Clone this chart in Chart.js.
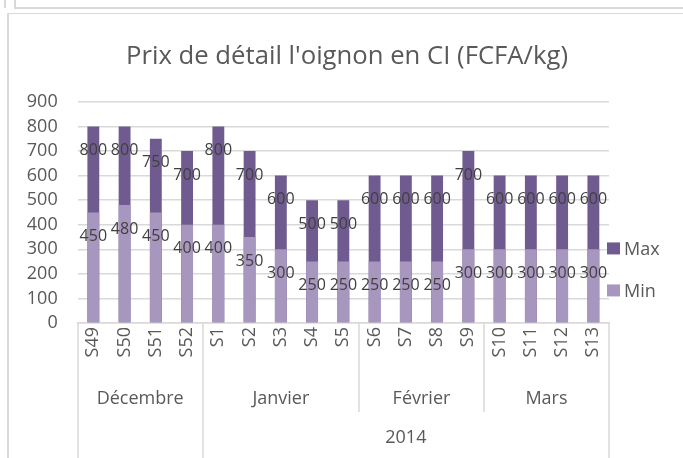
<!DOCTYPE html>
<html><head><meta charset="utf-8">
<script src="https://cdn.jsdelivr.net/npm/chart.js@4"></script>
<style>
html,body{margin:0;padding:0;background:#fff;overflow:hidden}
#wrap{position:relative;width:683px;height:458px}
canvas{position:absolute;left:0;top:0}
.ln{position:absolute;background:#d9d9d9}
</style></head><body>
<div id="wrap">
<canvas id="c" width="683" height="458"></canvas>
<div class="ln" style="left:4px;top:0;width:1.5px;height:8px"></div>
<div class="ln" style="left:14px;top:0;width:1.5px;height:8px"></div>
<div class="ln" style="left:14px;top:7px;width:669px;height:1.5px"></div>
<div class="ln" style="left:7px;top:12.5px;width:676px;height:1.5px"></div>
<div class="ln" style="left:7px;top:12.5px;width:1.5px;height:446px"></div>
</div>
<script>
const weeks = ['S49','S50','S51','S52','S1','S2','S3','S4','S5','S6','S7','S8','S9','S10','S11','S12','S13'];
const maxValues = [800,800,750,700,800,700,600,500,500,600,600,600,700,600,600,600,600];
const minValues = [450,480,450,400,400,350,300,250,250,250,250,250,300,300,300,300,300];
const months = ['Décembre','Janvier','Février','Mars'];
const monthSpans = [4,5,4,4];
const years = ['','2014'];
const yearSpans = [4,13];
const yMin = 0, yMax = 900, yStep = 100;

const FONT = '"Open Sans", "DejaVu Sans", sans-serif';
const TXT = '#595959';
const LINE = '#d9d9d9';

const dataLabels = {
  id: 'dataLabels',
  afterDatasetsDraw(chart) {
    const ctx = chart.ctx;
    ctx.save();
    ctx.font = '16px ' + FONT;
    ctx.fillStyle = '#404040';
    ctx.textAlign = 'center';
    ctx.textBaseline = 'middle';
    chart.data.datasets.forEach((ds, i) => {
      const meta = chart.getDatasetMeta(i);
      meta.data.forEach((el, j) => {
        ctx.fillText(String(ds.data[j]), el.x, el.y + 24);
      });
    });
    ctx.restore();
  }
};

const groupAxis = {
  id: 'groupAxis',
  afterDraw(chart) {
    const x = chart.scales.x, ctx = chart.ctx;
    const n = weeks.length;
    const step = (x.getPixelForTick(n - 1) - x.getPixelForTick(0)) / (n - 1);
    const edge = i => x.getPixelForTick(0) + (i - 0.5) * step;
    const top = x.top;
    ctx.save();
    ctx.font = '18px ' + FONT;
    ctx.fillStyle = TXT;
    ctx.textAlign = 'center';
    ctx.textBaseline = 'middle';
    const monthB = [0], yearB = [0];
    let s = 0;
    months.forEach((m, k) => {
      const a = edge(s), b = edge(s + monthSpans[k]);
      ctx.fillText(m, (a + b) / 2, top + 76);
      s += monthSpans[k]; monthB.push(s);
    });
    s = 0;
    years.forEach((y, k) => {
      const a = edge(s), b = edge(s + yearSpans[k]);
      if (y) ctx.fillText(y, (a + b) / 2, top + 115);
      s += yearSpans[k]; yearB.push(s);
    });
    ctx.strokeStyle = LINE;
    ctx.lineWidth = 1.5;
    monthB.forEach(i => {
      const px = Math.round(edge(i));
      const bottom = yearB.includes(i) ? chart.height : top + 89;
      ctx.beginPath();
      ctx.moveTo(px, top);
      ctx.lineTo(px, bottom);
      ctx.stroke();
    });
    ctx.restore();
  }
};

const sideLegend = {
  id: 'sideLegend',
  afterDraw(chart) {
    const a = chart.chartArea, ctx = chart.ctx;
    const mid = (a.top + a.bottom) / 2;
    ctx.save();
    ctx.font = '18px ' + FONT;
    ctx.textAlign = 'left';
    ctx.textBaseline = 'middle';
    chart.data.datasets.forEach((ds, i) => {
      const cy = mid + 36 + i * 42;
      ctx.fillStyle = ds.backgroundColor;
      ctx.fillRect(a.right - 2, cy - 6, 13, 12);
      ctx.fillStyle = TXT;
      ctx.fillText(ds.label, a.right + 15, cy + 1);
    });
    ctx.restore();
  }
};

new Chart(document.getElementById('c'), {
  type: 'bar',
  data: {
    labels: weeks,
    datasets: [
      { label: 'Max', data: maxValues, backgroundColor: '#6F5B8F', order: 1, grouped: false,
        categoryPercentage: 1, barPercentage: 0.38 },
      { label: 'Min', data: minValues, backgroundColor: '#A797BF', order: 0, grouped: false,
        categoryPercentage: 1, barPercentage: 0.38 }
    ]
  },
  options: {
    responsive: false,
    devicePixelRatio: 1,
    animation: false,
    layout: { padding: { left: 11, right: 0, top: 0, bottom: 0 } },
    plugins: {
      legend: { display: false },
      tooltip: { enabled: false },
      title: {
        display: true,
        text: "Prix de détail l'oignon en CI (FCFA/kg)",
        color: TXT,
        font: { family: FONT, size: 25.7, weight: 'normal' },
        padding: { top: 41, bottom: 30 }
      }
    },
    scales: {
      x: {
        grid: { display: false, drawTicks: false },
        border: { display: true, color: LINE, width: 1.5 },
        ticks: { autoSkip: false, maxRotation: 90, minRotation: 90, padding: 4, color: TXT,
                 font: { family: FONT, size: 18 } },
        afterFit(s) { s.height = 135; }
      },
      y: {
        min: yMin, max: yMax,
        ticks: { stepSize: yStep, autoSkip: false, padding: 20, color: TXT, font: { family: FONT, size: 18 } },
        grid: { color: LINE, lineWidth: 1.5, drawTicks: false },
        border: { display: false },
        afterFit(s) { s.width = 66.7; }
      },
      side: {
        position: 'right',
        display: true,
        grid: { display: false, drawTicks: false },
        border: { display: false },
        ticks: { display: false },
        afterFit(s) { s.width = 74; }
      }
    }
  },
  plugins: [dataLabels, groupAxis, sideLegend]
});
</script>
</body></html>
